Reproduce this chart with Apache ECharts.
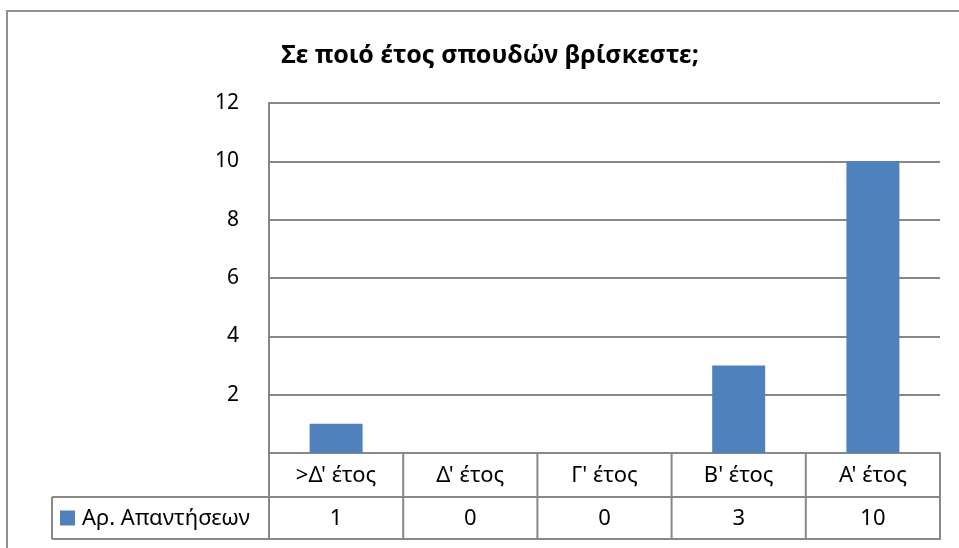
<!DOCTYPE html>
<html>
<head>
<meta charset="utf-8">
<script src="https://cdn.jsdelivr.net/npm/echarts@6/dist/echarts.min.js"></script>
<style>
html,body{margin:0;padding:0;background:#fff;}
#chart{width:959px;height:548px;}
</style>
</head>
<body>
<div id="chart"></div>
<script>
const titleText = 'Σε ποιό έτος σπουδών βρίσκεστε;';
const categories = [">Δ' έτος", "Δ' έτος", "Γ' έτος", "Β' έτος", "Α' έτος"];
const seriesName = 'Αρ. Απαντήσεων';
const values = [1, 0, 0, 3, 10];
const yTicks = [0, 2, 4, 6, 8, 10, 12];

const FONT = '"Noto Sans", sans-serif';
const LINE = '#878787';
const BAR = '#4f81bd';

const chart = echarts.init(document.getElementById('chart'), null, {renderer: 'canvas'});

const gridLeft = 269, gridTop = 103, gridW = 671, gridH = 350;
const rowH1 = 44, rowH2 = 42, legendLeft = 52;

chart.setOption({
  animation: false,
  grid: {left: gridLeft, top: gridTop, width: gridW, height: gridH, containLabel: false},
  xAxis: {
    type: 'category',
    data: categories,
    axisLine: {show: true, lineStyle: {color: LINE, width: 2}},
    axisTick: {show: false},
    axisLabel: {show: false}
  },
  yAxis: {
    type: 'value',
    min: yTicks[0],
    max: yTicks[yTicks.length - 1],
    interval: 2,
    axisLine: {show: true, lineStyle: {color: LINE, width: 2}},
    axisTick: {show: false},
    axisLabel: {
      color: '#000', fontFamily: FONT, fontSize: 21, margin: 30,
      formatter: v => (v === 0 ? '' : String(v))
    },
    splitLine: {show: true, lineStyle: {color: LINE, width: 2}}
  },
  series: [{
    name: seriesName,
    type: 'bar',
    data: values,
    barWidth: 53,
    itemStyle: {color: BAR, borderWidth: 0}
  }]
});

const centers = categories.map((c, i) => chart.convertToPixel({xAxisIndex: 0}, i));
const step = centers.length > 1 ? centers[1] - centers[0] : gridW;
const y0 = chart.convertToPixel({yAxisIndex: 0}, 0);
const xStart = centers[0] - step / 2;
const xEnd = centers[centers.length - 1] + step / 2;
const r1 = y0 + rowH1, r2 = r1 + rowH2;

const els = [];
const ls = {stroke: LINE, lineWidth: 2};
els.push({type: 'rect', shape: {x: 7, y: 11, width: 1000, height: 600}, style: {fill: null, stroke: '#8e8e8e', lineWidth: 2}, silent: true});
els.push({type: 'text', x: 490, y: 56, style: {text: titleText, fontFamily: FONT, fontWeight: 'bold', fontSize: 25, fill: '#000', align: 'center', verticalAlign: 'middle'}});
els.push({type: 'line', shape: {x1: legendLeft, y1: r1, x2: xEnd + 1, y2: r1}, style: ls});
els.push({type: 'line', shape: {x1: legendLeft, y1: r2, x2: xEnd + 1, y2: r2}, style: ls});
els.push({type: 'line', shape: {x1: legendLeft, y1: r1, x2: legendLeft, y2: r2}, style: ls});
for (let i = 0; i <= categories.length; i++) {
  const x = xStart + i * step;
  els.push({type: 'line', shape: {x1: x, y1: (i === 0 ? y0 - 1 : y0), x2: x, y2: r2 + 1}, style: ls});
}
categories.forEach((c, i) => {
  els.push({type: 'text', x: centers[i], y: (y0 + r1) / 2 + 1, style: {text: c, fontFamily: FONT, fontSize: 22, fill: '#000', align: 'center', verticalAlign: 'middle'}});
  els.push({type: 'text', x: centers[i], y: (r1 + r2) / 2 + 1, style: {text: String(values[i]), fontFamily: FONT, fontSize: 22, fill: '#000', align: 'center', verticalAlign: 'middle'}});
});
els.push({type: 'rect', shape: {x: 60, y: (r1 + r2) / 2 - 7.5, width: 15, height: 15}, style: {fill: BAR}});
els.push({type: 'text', x: 82, y: (r1 + r2) / 2 + 1, style: {text: seriesName, fontFamily: FONT, fontSize: 22, fill: '#000', align: 'left', verticalAlign: 'middle'}});

chart.setOption({graphic: {elements: els}});
</script>
</body>
</html>
